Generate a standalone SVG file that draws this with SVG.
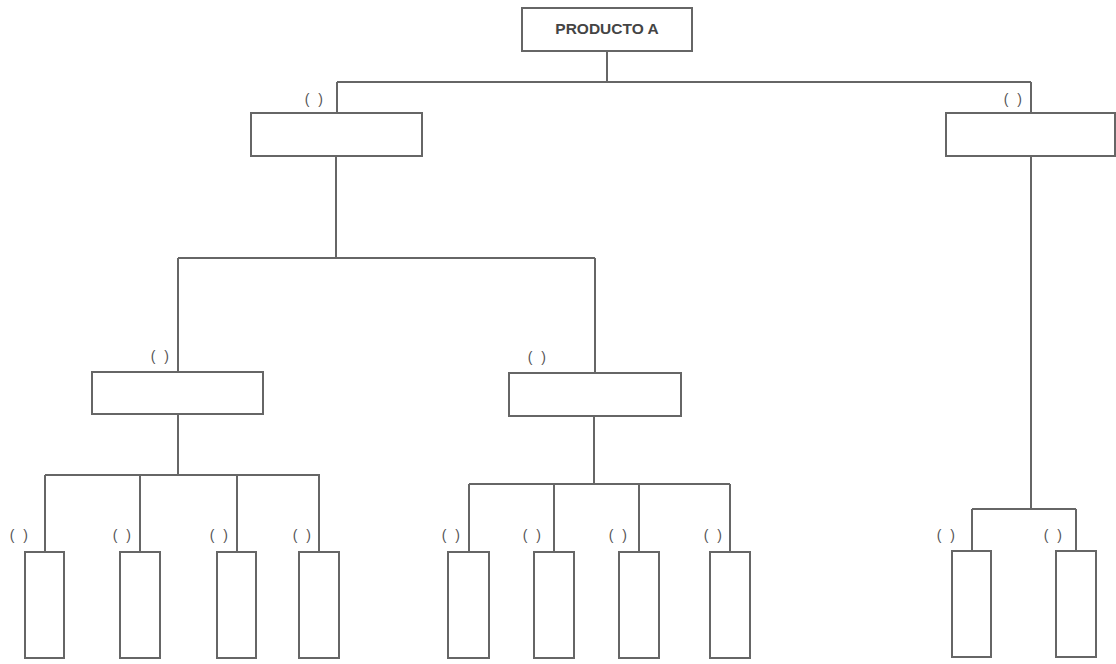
<svg xmlns="http://www.w3.org/2000/svg" width="1116" height="664" viewBox="0 0 1116 664">
  <style>
    .box { fill: #ffffff; stroke: #666666; stroke-width: 2; }
    .wire { fill: none; stroke: #666666; stroke-width: 2; }
    .title { font-family: "Liberation Sans", Arial, sans-serif; font-size: 15.5px; font-weight: bold; fill: #444444; text-anchor: middle; }
    .tag { font-family: "Liberation Sans", Arial, sans-serif; font-size: 14px; fill: #555555; text-anchor: middle; letter-spacing: 2.5px; }
  </style>
  <rect width="1116" height="664" fill="#ffffff"/>

  <!-- connectors -->
  <g id="connectors" class="wire">
    <!-- root to level 1 -->
    <path d="M607 51 V82 M337 82 H1031 M337 82 V113 M1031 82 V113"/>
    <!-- left branch to level 2 -->
    <path d="M336 156 V258 M178 258 H595 M178 258 V372 M595 258 V373"/>
    <!-- level 2 left to leaves -->
    <path d="M178 414 V475 M45 475 H320 M45 475 V552 M140 475 V552 M237 475 V552 M319 475 V552"/>
    <!-- level 2 right to leaves -->
    <path d="M594 416 V484 M469 484 H730 M469 484 V552 M554 484 V552 M639 484 V552 M730 484 V552"/>
    <!-- right branch to leaves -->
    <path d="M1031 156 V509 M972 509 H1076 M972 509 V551 M1076 509 V551"/>
  </g>

  <!-- root -->
  <g id="root">
    <rect class="box" x="522" y="8" width="170" height="43"/>
    <text class="title" x="607" y="34">PRODUCTO A</text>
  </g>

  <!-- level 1 -->
  <g id="n1-left">
    <rect class="box" x="251" y="113" width="171" height="43"/>
    <text class="tag" x="315" y="104">( )</text>
  </g>
  <g id="n1-right">
    <rect class="box" x="946" y="113" width="169" height="43"/>
    <text class="tag" x="1014" y="104">( )</text>
  </g>

  <!-- level 2 -->
  <g id="n2-left">
    <rect class="box" x="92" y="372" width="171" height="42"/>
    <text class="tag" x="161" y="361">( )</text>
  </g>
  <g id="n2-right">
    <rect class="box" x="509" y="373" width="172" height="43"/>
    <text class="tag" x="538" y="362">( )</text>
  </g>

  <!-- leaves, left group -->
  <g id="leaf-1">
    <rect class="box" x="25" y="552" width="39" height="106"/>
    <text class="tag" x="20" y="540">( )</text>
  </g>
  <g id="leaf-2">
    <rect class="box" x="120" y="552" width="40" height="106"/>
    <text class="tag" x="123" y="540">( )</text>
  </g>
  <g id="leaf-3">
    <rect class="box" x="217" y="552" width="39" height="106"/>
    <text class="tag" x="220" y="540">( )</text>
  </g>
  <g id="leaf-4">
    <rect class="box" x="299" y="552" width="40" height="106"/>
    <text class="tag" x="303" y="540">( )</text>
  </g>

  <!-- leaves, middle group -->
  <g id="leaf-5">
    <rect class="box" x="448" y="552" width="41" height="106"/>
    <text class="tag" x="452" y="540">( )</text>
  </g>
  <g id="leaf-6">
    <rect class="box" x="534" y="552" width="40" height="106"/>
    <text class="tag" x="533" y="540">( )</text>
  </g>
  <g id="leaf-7">
    <rect class="box" x="619" y="552" width="40" height="106"/>
    <text class="tag" x="619" y="540">( )</text>
  </g>
  <g id="leaf-8">
    <rect class="box" x="710" y="552" width="40" height="106"/>
    <text class="tag" x="714" y="540">( )</text>
  </g>

  <!-- leaves, right group -->
  <g id="leaf-9">
    <rect class="box" x="952" y="551" width="39" height="106"/>
    <text class="tag" x="947" y="540">( )</text>
  </g>
  <g id="leaf-10">
    <rect class="box" x="1056" y="551" width="40" height="106"/>
    <text class="tag" x="1054" y="540">( )</text>
  </g>
</svg>
